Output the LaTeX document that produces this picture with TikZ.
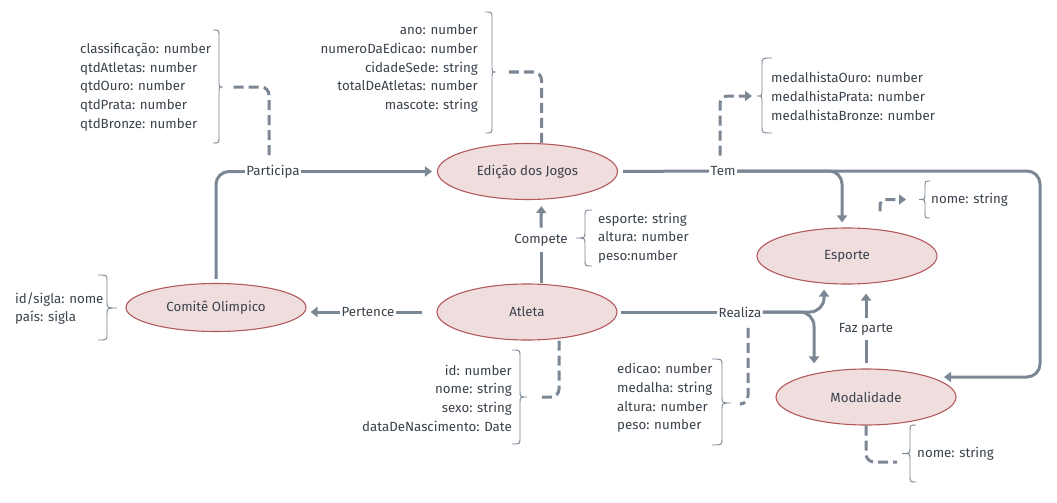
\documentclass[tikz,border=0pt]{standalone}
\usepackage{fontspec}
\setmainfont{Fira Sans}
\usetikzlibrary{arrows.meta,shapes.geometric,calc}
\definecolor{lnc}{HTML}{7B8794}
\definecolor{txc}{HTML}{3A424C}
\definecolor{elf}{HTML}{F0DEDE}
\definecolor{eld}{HTML}{B3595B}
\newcommand\attrbrace[6]{% xend xvert xtip ytop ymid ybot
  \draw[brc] (#1,#4) .. controls (#2,#4) .. (#2,#4+6) -- (#2,#5-6) .. controls (#2,#5) .. (#3,#5) .. controls (#2,#5) .. (#2,#5+6) -- (#2,#6-6) .. controls (#2,#6) .. (#1,#6);}
\begin{document}
\begin{tikzpicture}[x=1pt,y=-1pt,
  every node/.style={font=\fontsize{13.3}{18.7}\selectfont, text=txc},
  entity/.style={ellipse, draw=eld, fill=elf, line width=1.1pt, minimum width=180pt, minimum height=56pt, inner sep=0pt},
  rel/.style={inner sep=1.5pt},
  conn/.style={draw=lnc, line width=3pt, rounded corners=13pt},
  tip/.style={-{Triangle[length=7pt,width=10pt]}},
  arr/.style={conn, tip},
  dconn/.style={draw=lnc, line width=3pt, dash pattern=on 10pt off 5pt, rounded corners=8pt},
  attr/.style={inner sep=0pt},
  brc/.style={draw=lnc, line width=0.9pt},
]
\useasboundingbox (0,0) rectangle (1057,503);
\fill[white] (0,0) rectangle (1057,503);

% entities
\node[entity] (edicao) at (527.5,171.5) {Edição dos Jogos};
\node[entity] (atleta) at (527,312) {Atleta};
\node[entity, minimum height=48pt] (comite) at (216,307.5) {Comitê Olimpico};
\node[entity] (esporte) at (847,256) {Esporte};
\node[entity] (modalidade) at (866,397) {Modalidade};

% relation labels
\node[rel] (participa) at (273,171.5) {Participa};
\node[rel] (tem) at (723,171) {Tem};
\node[rel, inner ysep=6pt] (compete) at (541,240) {Compete};
\node[rel] (pertence) at (368,312) {Pertence};
\node[rel] (realiza) at (740,312) {Realiza};
\node[rel, inner ysep=5pt] (fazparte) at (866,329) {Faz parte};

% attribute lists
\node[attr, anchor=west, align=left] (attA) at (80,87) {classificação: number\\qtdAtletas: number\\qtdOuro: number\\qtdPrata: number\\qtdBronze: number};
\node[attr, anchor=east, align=right] (attB) at (478,68.5) {ano: number\\numeroDaEdicao: number\\cidadeSede: string\\totalDeAtletas: number\\mascote: string};
\node[attr, anchor=west, align=left] (attC) at (771,96.5) {medalhistaOuro: number\\medalhistaPrata: number\\medalhistaBronze: number};
\node[attr, anchor=west, align=left] (attD) at (931,199.5) {nome: string};
\node[attr, anchor=east, align=right] (attE) at (512,398) {id: number\\nome: string\\sexo: string\\dataDeNascimento: Date};
\node[attr, anchor=west, align=left] (attF) at (617,398) {edicao: number\\medalha: string\\altura: number\\peso: number};
\node[attr, anchor=west, align=left] (attG) at (917,454) {nome: string};
\node[attr, anchor=west, align=left] (attH) at (15,308.5) {id/sigla: nome\\país: sigla};
\node[attr, anchor=west, align=left] (attI) at (598,238) {esporte: string\\altura: number\\peso:number};

% braces
\attrbrace{213}{219}{223}{30}{87}{143}
\attrbrace{485}{492}{496}{12}{72}{133}
\attrbrace{772}{762}{757}{58}{96}{133}
\attrbrace{930}{925}{919}{181}{199.5}{218}
\attrbrace{512}{520}{527}{350}{397}{444}
\attrbrace{712}{722}{731}{359}{403}{445}
\attrbrace{916}{910}{902}{425}{453.5}{482}
\attrbrace{98}{107}{117}{275}{308}{340}
\attrbrace{592}{585}{576}{210}{238}{266}
\coordinate (tipA) at (223,87);
\coordinate (tipB) at (496,72);
\coordinate (tipC) at (757,96);
\coordinate (tipD) at (919,199.5);
\coordinate (tipE) at (527,397);
\coordinate (tipF) at (731,404);
\coordinate (tipG) at (902,462);
\coordinate (corner) at (1040,171);
\coordinate (modtip) at (944,377);

% connectors
\draw[conn, shorten <=4pt] (comite.north) |- (participa.west);
\draw[arr, shorten >=5pt] (participa.east) -- (edicao.west);

\draw[conn, shorten <=5pt] (edicao.east) -- (tem.west);
\draw[arr, shorten >=5pt] (tem.east) -| ([xshift=-5pt]esporte.north);
\draw[arr] (tem.east) -- (corner) |- (modtip);

\draw[conn] ([xshift=14pt]atleta.north) -- (compete.south);
\draw[arr, shorten >=6pt] (compete.north) -- ([xshift=14pt]edicao.south);

\draw[conn, shorten <=14pt] (atleta.west) -- (pertence.east);
\draw[arr, shorten >=4pt] (pertence.west) -- (pertence.west -| comite.east);

\draw[conn, shorten <=3pt] (atleta.east) -- (realiza.west);
\draw[arr, shorten >=5pt, rounded corners=14pt] (realiza.east) -| ([xshift=-52pt]modalidade.north);
\draw[arr, shorten >=5pt, rounded corners=14pt] (realiza.east) -| ([xshift=-23pt]esporte.south);

\draw[conn, shorten <=5pt] (modalidade.north) -- (fazparte.south);
\draw[arr, shorten >=9pt] (fazparte.north) -- ([xshift=19pt]esporte.south);

% dashed attribute links
\draw[dconn, shorten <=8pt, shorten >=10pt] ([xshift=-4pt]participa.north) |- (tipA);
\draw[dconn, shorten >=8pt] ([xshift=14pt]edicao.north) |- (tipB);
\draw[dconn, tip, shorten <=9pt, shorten >=5pt] ([xshift=-3pt]tem.north) |- (tipC);
\draw[dconn, tip, shorten <=16pt, shorten >=13pt, rounded corners=5pt] ([xshift=33pt]esporte.north) |- (tipD);
\draw[dconn, shorten >=10pt] ([xshift=32pt]atleta.south) |- (tipE);
\draw[dconn, shorten <=9pt, shorten >=10pt] ([xshift=8pt]realiza.south) |- (tipF);
\draw[dconn, shorten >=5pt] (modalidade.south) |- (tipG);
\end{tikzpicture}
\end{document}
